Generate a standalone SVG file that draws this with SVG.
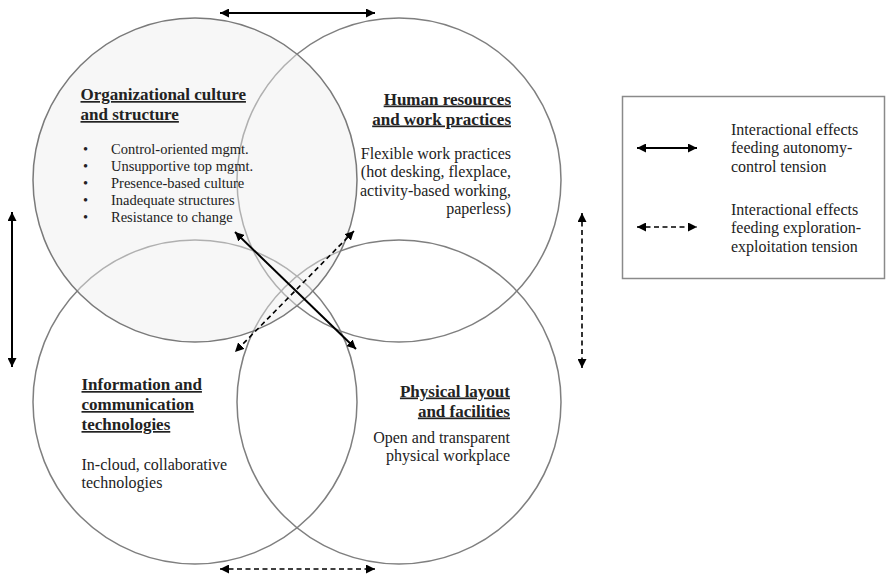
<svg xmlns="http://www.w3.org/2000/svg" width="886" height="576" viewBox="0 0 886 576">
  <style>
    .ring { fill: none; stroke: #7f7f7f; stroke-width: 1.5; }
    .txt { font-family: "Liberation Serif", "Times New Roman", serif; fill: #222; }
    .head { font-size: 17px; font-weight: bold; text-decoration: underline; }
    .body { font-size: 16px; }
    .list { font-size: 14.5px; }
    .solid { stroke: #000; stroke-width: 2; fill: none; }
    .dash { stroke: #000; stroke-width: 1.6; fill: none; stroke-dasharray: 5 3.5; }
  </style>
  <defs>
    <marker id="tip" viewBox="0 0 10 10" refX="10" refY="5" markerWidth="9" markerHeight="9" markerUnits="userSpaceOnUse" orient="auto-start-reverse">
      <path d="M0,0 L10,5 L0,10 Z" fill="#000"/>
    </marker>
  </defs>

  <rect width="886" height="576" fill="#fff"/>

  <!-- Human resources and work practices -->
  <g id="hr">
    <circle class="ring" cx="399" cy="180" r="162"/>
    <text class="txt head" text-anchor="end" x="511" y="104.5">Human resources</text>
    <text class="txt head" text-anchor="end" x="511" y="124.5">and work practices</text>
    <text class="txt body" text-anchor="end" x="511" y="158.5">Flexible work practices</text>
    <text class="txt body" text-anchor="end" x="511" y="177">(hot desking, flexplace,</text>
    <text class="txt body" text-anchor="end" x="511" y="195.5">activity-based working,</text>
    <text class="txt body" text-anchor="end" x="511" y="214">paperless)</text>
  </g>

  <!-- Information and communication technologies -->
  <g id="ict">
    <circle class="ring" cx="195" cy="402" r="162"/>
    <text class="txt head" x="81.5" y="390">Information and</text>
    <text class="txt head" x="81.5" y="410">communication</text>
    <text class="txt head" x="81.5" y="430">technologies</text>
    <text class="txt body" x="81.5" y="470">In-cloud, collaborative</text>
    <text class="txt body" x="81.5" y="488">technologies</text>
  </g>

  <!-- Physical layout and facilities -->
  <g id="layout">
    <circle class="ring" cx="399" cy="402" r="162"/>
    <text class="txt head" text-anchor="end" x="510" y="396.5">Physical layout</text>
    <text class="txt head" text-anchor="end" x="510" y="416.5">and facilities</text>
    <text class="txt body" text-anchor="end" x="510" y="442.5">Open and transparent</text>
    <text class="txt body" text-anchor="end" x="510" y="460.5">physical workplace</text>
  </g>

  <!-- Organizational culture and structure (shaded, drawn over the others) -->
  <g id="culture">
    <circle cx="195" cy="180" r="162" fill="#eeeeee" fill-opacity="0.45" stroke="#7a7a7a" stroke-width="1.5"/>
    <text class="txt head" x="80.5" y="100">Organizational culture</text>
    <text class="txt head" x="80.5" y="120">and structure</text>
    <g class="txt list">
      <text x="83" y="154">•</text><text x="111" y="154">Control-oriented mgmt.</text>
      <text x="83" y="171">•</text><text x="111" y="171">Unsupportive top mgmt.</text>
      <text x="83" y="188">•</text><text x="111" y="188">Presence-based culture</text>
      <text x="83" y="205">•</text><text x="111" y="205">Inadequate structures</text>
      <text x="83" y="222">•</text><text x="111" y="222">Resistance to change</text>
    </g>
  </g>

  <!-- Interaction arrows -->
  <g id="connectors">
    <line class="solid" x1="220" y1="13" x2="375" y2="13" marker-start="url(#tip)" marker-end="url(#tip)"/>
    <line class="dash" x1="220" y1="569" x2="375" y2="569" marker-start="url(#tip)" marker-end="url(#tip)"/>
    <line class="solid" x1="12" y1="212" x2="12" y2="367" marker-start="url(#tip)" marker-end="url(#tip)"/>
    <line class="dash" x1="582" y1="213" x2="582" y2="368" marker-start="url(#tip)" marker-end="url(#tip)"/>
    <line class="solid" x1="235" y1="232" x2="356" y2="349" marker-start="url(#tip)" marker-end="url(#tip)"/>
    <line class="dash" x1="354" y1="231" x2="235" y2="352" marker-start="url(#tip)" marker-end="url(#tip)"/>
  </g>

  <!-- Legend -->
  <g id="legend">
    <rect x="622.5" y="96.5" width="262" height="182" fill="#fff" stroke="#8a8a8a" stroke-width="1.5"/>
    <line class="solid" x1="637" y1="148" x2="697" y2="148" marker-start="url(#tip)" marker-end="url(#tip)"/>
    <line class="dash" x1="637" y1="227" x2="697" y2="227" marker-start="url(#tip)" marker-end="url(#tip)"/>
    <text class="txt body" x="731" y="134.5">Interactional effects</text>
    <text class="txt body" x="731" y="153">feeding autonomy-</text>
    <text class="txt body" x="731" y="171.5">control tension</text>
    <text class="txt body" x="731" y="214.5">Interactional effects</text>
    <text class="txt body" x="731" y="233">feeding exploration-</text>
    <text class="txt body" x="731" y="251.5">exploitation tension</text>
  </g>
</svg>
